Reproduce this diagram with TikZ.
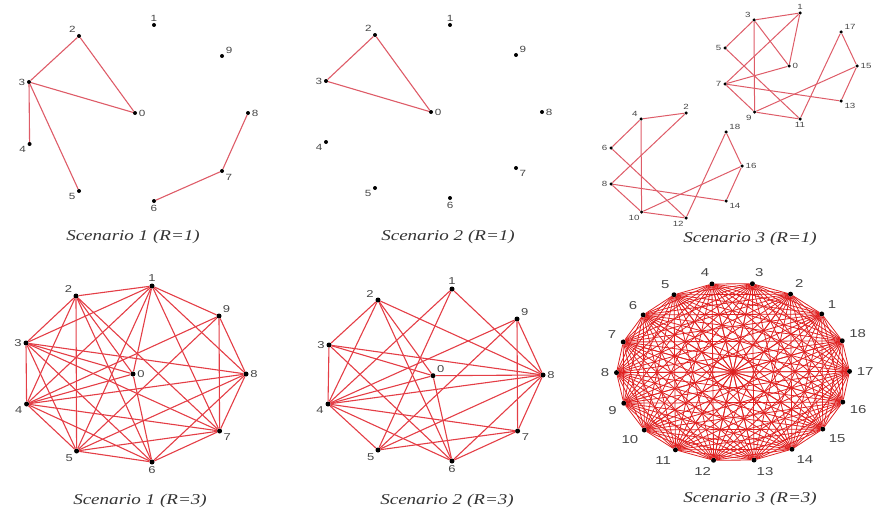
\documentclass[tikz,border=0pt]{standalone}
\usepackage{fontspec}
\setmainfont{Liberation Serif}
\setsansfont{Liberation Sans}
\newfontfamily\numfont[FakeStretch=1.3]{Liberation Sans}
\newfontfamily\capfont[FakeStretch=1.27]{Liberation Serif}
\usetikzlibrary{positioning}
\definecolor{LinkRed} {RGB}{222,92,104}
\definecolor{BusyRed} {RGB}{228,62,70}
\definecolor{DenseRed}{RGB}{224,34,34}
\definecolor{NumGray} {RGB}{70,70,70}

\begin{document}
\begin{tikzpicture}[x=1pt,y=-1pt,
  vtx/.style={circle,fill=black,inner sep=0pt,minimum size=4pt},
  num/.style={font=\numfont\fontsize{9}{9}\selectfont,text=NumGray,inner sep=1.5pt},
  link/.style={LinkRed,line width=1.1pt},
  capt/.style={font=\capfont\itshape\fontsize{15}{15}\selectfont,text=black!80}]
  \useasboundingbox (0,0) rectangle (876,511);

  % Scenario 1 (R=1)
  \foreach \n/\x/\y/\a in {0/135/113/0, 1/154/25/90, 2/79/36/135, 3/29/82/180,
      4/29.6/144/195, 5/79/191/205, 6/154/201/-90, 7/222/171/-35, 8/248/113/0,
      9/222/56/20}
    \node[vtx,label={[num]\a:\n}] (A\n) at (\x,\y) {};
  \foreach \u/\v in {2/3,2/0,3/0,3/4,3/5,6/7,7/8}
    \draw[link] (A\u) -- (A\v);
  \node[capt] (cap1) at (133,237) {Scenario 1 (R=1)};

  % Scenario 2 (R=1)
  \foreach \n/\x/\y/\a in {0/431/112/0, 1/450/25/90, 2/375/35/135, 3/326/81/180,
      4/326/142/205, 5/375/188/210, 6/450/198/-90, 7/516/168/-30, 8/542/112/0,
      9/516/55/30}
    \node[vtx,label={[num]\a:\n}] (B\n) at (\x,\y) {};
  \foreach \u/\v in {2/3,2/0,3/0}
    \draw[link] (B\u) -- (B\v);
  \node[capt] (cap2) at (448,237) {Scenario 2 (R=1)};

  % Scenario 3 (R=1)
  \foreach \n/\x/\y/\a in {0/789/66/0, 1/800/13/90, 2/686/113/90, 3/754/20/150,
      4/641/119/150, 5/725/48/180, 6/611/148/180, 7/725/84/180, 8/611/184/180,
      9/754.6/112/225, 10/641.6/212/-100, 11/800/119/-90, 12/686/218/-110,
      13/841/101/-20, 14/726/201/-20, 15/857/66/0, 16/742/166/0, 17/841/32/10,
      18/726/132/30}
    \node[vtx,minimum size=3.5pt,
          label={[num,font=\numfont\fontsize{7.5}{7.5}\selectfont]\a:\n}]
         (C\n) at (\x,\y) {};
  \foreach \u/\v in {3/1,3/5,3/0,3/9,1/0,1/7,5/11,7/0,7/9,7/13,9/15,9/11,
      11/17,17/15,15/13,4/2,4/6,4/10,2/8,6/12,8/10,8/14,10/12,10/16,12/18,
      18/16,16/14}
    \draw[link,line width=1pt] (C\u) -- (C\v);
  \node[capt] (cap3) at (750,239) {Scenario 3 (R=1)};

  % Scenario 1 (R=3)
  \foreach \n/\x/\y/\a in {0/133/374/0, 1/152/286/90, 2/76/296/145, 3/26/343/180,
      4/26.6/404/195, 5/76.6/451/220, 6/152/462/-90, 7/219.6/431/-30, 8/246/374/0,
      9/219/316/40}
    \node[vtx,minimum size=5pt,
          label={[num,font=\numfont\fontsize{10}{10}\selectfont]\a:\n}]
         (D\n) at (\x,\y) {};
  \foreach \u/\v in {1/2,1/3,1/4,1/5,1/0,1/7,1/8,1/9,2/3,2/4,2/5,2/6,2/7,2/0,
      3/4,3/5,3/6,3/7,3/8,3/0,4/5,4/6,4/7,4/8,4/0,4/9,5/6,5/7,5/8,5/9,
      6/7,6/8,6/0,7/8,7/9,8/9}
    \draw[link,BusyRed] (D\u) -- (D\v);
  \node[capt] (cap4) at (140,501) {Scenario 1 (R=3)};

  % Scenario 2 (R=3)
  \foreach \n/\x/\y/\a in {0/433/375.7/20, 1/452/289/90, 2/378/300/165, 3/329/345/180,
      4/328/404/195, 5/378/450/225, 6/452/461/-90, 7/517.6/431/-25, 8/543/375/0,
      9/517/319/30}
    \node[vtx,minimum size=5pt,
          label={[num,font=\numfont\fontsize{10}{10}\selectfont]\a:\n}]
         (E\n) at (\x,\y) {};
  \foreach \u/\v in {1/4,1/5,1/8,2/3,2/4,2/6,2/8,2/0,3/4,3/6,3/8,3/0,
      4/5,4/6,4/7,4/8,4/9,4/0,5/7,5/8,5/9,6/0,6/7,6/8,7/8,7/9,8/9,8/0}
    \draw[link,BusyRed] (E\u) -- (E\v);
  \node[capt] (cap5) at (447,501) {Scenario 2 (R=3)};

  % Scenario 3 (R=3): every pair linked
  \node[vtx,minimum size=4pt] (F0) at (733,372) {};
  \foreach \n in {1,...,18}{
    \pgfmathsetmacro\ang{20*\n+20.4}
    \pgfmathsetmacro\px{733+116.5*cos(\ang)}
    \pgfmathsetmacro\py{372-89.5*sin(\ang)}
    \node[vtx,minimum size=5pt,
          label={[num,font=\numfont\fontsize{11.5}{11.5}\selectfont,
                  label distance=3pt]\ang:\n}]
         (F\n) at (\px,\py) {};
  }
  \foreach \i in {0,...,17}{
    \pgfmathtruncatemacro\k{\i+1}
    \foreach \j in {\k,...,18}
      \draw[DenseRed,line width=0.8pt] (F\i) -- (F\j);
  }
  \node[capt] (cap6) at (750,499) {Scenario 3 (R=3)};
\end{tikzpicture}
\end{document}
